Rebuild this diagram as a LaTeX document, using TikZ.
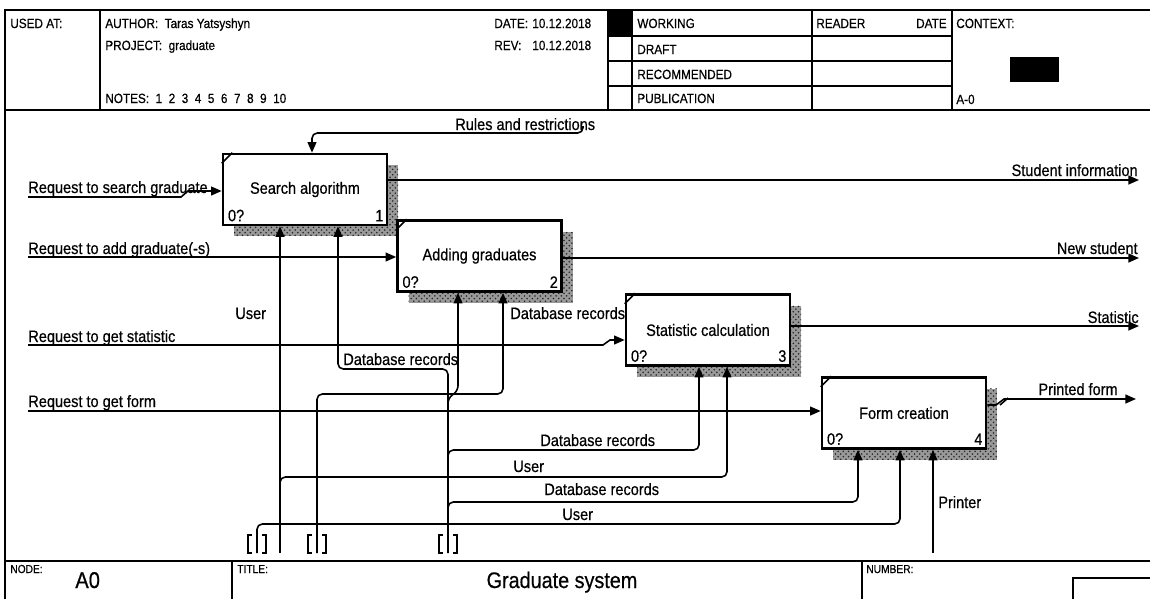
\documentclass[tikz,border=0pt]{standalone}
\usepackage{fontspec}
\setmainfont{Liberation Sans}[FakeStretch=0.88,FakeBold=0.5]
\usetikzlibrary{calc}
\usetikzlibrary{positioning}
\usetikzlibrary{arrows.meta}
\usetikzlibrary{patterns}
\usetikzlibrary{shadows}
\newcommand\lblfont{\fontsize{9.4}{11}\selectfont}
\newcommand\hdrfont{\fontsize{7.6}{9}\selectfont}

\begin{document}
\begin{tikzpicture}[x=0.02cm,y=-0.02cm,
	func/.style={draw,line width=1.5pt,fill=white,minimum width=3.28cm,minimum height=1.42cm,inner sep=0pt,font=\lblfont,
		general shadow={fill=black!40,shadow xshift=6.3pt,shadow yshift=-6.3pt},
		general shadow={pattern=crosshatch dots,pattern color=black!85,shadow xshift=6.3pt,shadow yshift=-6.3pt}},
	arr/.style={-{Triangle[length=6pt,width=5pt]},line width=0.9pt,rounded corners=3pt},
	frame/.style={line width=1pt},
	lbl/.style={anchor=base west,inner sep=0pt,font=\lblfont},
	rlbl/.style={anchor=base east,inner sep=0pt,font=\lblfont},
	hdr/.style={anchor=base west,inner sep=0pt,font=\hdrfont},
	tag/.style={inner sep=0pt,font=\lblfont}]
	\useasboundingbox (0,0) rectangle (1150,599);
	\fill[white] (0,0) rectangle (1150,599);
	\clip (0,0) rectangle (1150,599);

	\draw[frame] (5,599) -- (5,10) -- (1150,10);
	\draw[frame] (5,110) -- (1150,110);
	\draw[frame] (5,561) -- (1150,561);
	\foreach \x in {100,608,632,812,952} \draw[frame] (\x,10) -- (\x,110);
	\foreach \y in {36,61,86} \draw[frame] (608,\y) -- (952,\y);
	\fill (608,10) rectangle (632,36);
	\fill (1010,57) rectangle (1059,82);
	\draw[frame] (232,561) -- (232,599) (862,561) -- (862,599);
	\draw[frame] (1073,599) -- (1073,578) -- (1150,578);

	\node[hdr] (usedat) at (10,28) {USED AT:};
	\node[hdr] (author) at (105,28) {AUTHOR:~~Taras Yatsyshyn};
	\node[hdr] (project) at (105,50) {PROJECT:~~graduate};
	\node[hdr] (notes) at (105,103) {NOTES:~~1~~2~~3~~4~~5~~6~~7~~8~~9~~10};
	\node[hdr] (date) at (494,28) {DATE:};
	\node[hdr] (dateval) at (532,28) {10.12.2018};
	\node[hdr] (rev) at (494,50) {REV:};
	\node[hdr] (revval) at (532,50) {10.12.2018};
	\node[hdr] (working) at (637,28) {WORKING};
	\node[hdr] (draft) at (637,54) {DRAFT};
	\node[hdr] (recom) at (637,79) {RECOMMENDED};
	\node[hdr] (publ) at (637,103) {PUBLICATION};
	\node[hdr] (reader) at (816,28) {READER};
	\node[hdr,anchor=base east] (rdate) at (947,28) {DATE};
	\node[hdr] (context) at (956,28) {CONTEXT:};
	\node[hdr] (ctxnode) at (956,104) {A-0};

	\node[func] (b1) at (305,189.5) {Search algorithm};
	\node[func] (b2) at (479.5,256) {Adding graduates};
	\node[func] (b3) at (708,330) {Statistic calculation};
	\node[func] (b4) at (904,413) {Form creation};
	\foreach \b/\n in {b1/1,b2/2,b3/3,b4/4} {
		\node[tag,above right=2.6pt and 3.4pt of \b.south west] (\b z) {0?};
		\node[tag,above left=2.6pt and 2.6pt of \b.south east] (\b n) {\n};
		\draw[line width=0.9pt] ([yshift=-6pt]\b.north west) -- ([xshift=6pt]\b.north west);
	}

	\coordinate (ctl) at (583,126);
	\coordinate (in1) at (28,197);
	\coordinate (in2) at (28,257);
	\coordinate (in3) at (28,345);
	\coordinate (in4) at (28,411);
	\coordinate (out1) at (1139,180);
	\coordinate (out2) at (1139,258);
	\coordinate (out3) at (1139,326);
	\coordinate (out4) at (1136,399);
	\coordinate (usrA) at (280,553);
	\coordinate (usrB) at (317,553);
	\coordinate (usrC) at (257,553);
	\coordinate (dbA) at (448,553);
	\coordinate (prn) at (933,553);

	\draw[arr] (ctl) -- (583,133) -- (312,133) -- (312,0 |- b1.north);
	\draw[arr,sharp corners] (in1) -- (181,197) -- (188,191) -- (b1.west |- 0,191);
	\draw[arr] (in2) -- (b2.west |- in2);
	\draw[arr,sharp corners] (in3) -- (603,345) -- (610,340) -- (b3.west |- 0,340);
	\draw[arr] (in4) -- (b4.west |- in4);
	\draw[arr] (b1.east |- out1) -- (out1);
	\draw[arr] (b2.east |- out2) -- (out2);
	\draw[arr] (b3.east |- out3) -- (out3);
	\draw[arr,sharp corners] (b4.east |- 0,405) -- (996,405) -- (1004,399) -- (out4);
	\draw[line width=0.9pt] (1000,405) -- (1008,398);

	\draw[arr] (usrA) -- (usrA |- b1.south);
	\draw[arr] (280,483) -- (280,477) -- (727,477) -- (727,0 |- b3.south);
	\draw[arr] (usrB) -- (317,394) -- (503,394) -- (503,0 |- b2.south);
	\draw[arr] (usrC) -- (257,524) -- (900,524) -- (900,0 |- b4.south);
	\draw[arr] (dbA) -- (448,369) -- (338,369) -- (338,0 |- b1.south);
	\draw[arr] (448,404) -- (448,398) -- (458,391) -- (458,0 |- b2.south);
	\draw[arr] (448,456) -- (448,450) -- (699,450) -- (699,0 |- b3.south);
	\draw[arr] (448,508) -- (448,502) -- (858,502) -- (858,0 |- b4.south);
	\draw[arr] (prn) -- (prn |- b4.south);
	\foreach \t in {257,317,448} {
		\draw[line width=0.8pt] (\t-5,535) -- (\t-9,535) -- (\t-9,553) -- (\t-5,553);
		\draw[line width=0.8pt] (\t+5,535) -- (\t+9,535) -- (\t+9,553) -- (\t+5,553);
	}

	\node[lbl] (rules) at (455,130) {Rules and restrictions};
	\node[lbl] (req1) at (28,193) {Request to search graduate};
	\node[lbl] (req2) at (28,254) {Request to add graduate(-s)};
	\node[lbl] (req3) at (28,342) {Request to get statistic};
	\node[lbl] (req4) at (28,407) {Request to get form};
	\node[rlbl] (res1) at (1138,176) {Student information};
	\node[rlbl] (res2) at (1138,254) {New student};
	\node[rlbl] (res3) at (1139,323) {Statistic};
	\node[rlbl] (res4) at (1118,395) {Printed form};
	\node[lbl] (user1) at (235,319) {User};
	\node[lbl] (db1) at (343,365) {Database records};
	\node[lbl] (db2) at (510,319) {Database records};
	\node[lbl] (db3) at (540,446) {Database records};
	\node[lbl] (user3) at (513,472) {User};
	\node[lbl] (db4) at (544,495) {Database records};
	\node[lbl] (user4) at (562,520) {User};
	\node[lbl] (printer) at (938,508) {Printer};

	\node[hdr,font=\fontsize{6.6}{8}\selectfont] (nodelbl) at (10,573) {NODE:};
	\node[hdr,font=\fontsize{13}{15}\selectfont] (nodeval) at (75,588) {A0};
	\node[hdr,font=\fontsize{6.6}{8}\selectfont] (titlelbl) at (237,573) {TITLE:};
	\node[anchor=base,inner sep=0pt,font=\fontsize{12.8}{15}\selectfont] (title) at (562,588) {Graduate system};
	\node[hdr,font=\fontsize{6.6}{8}\selectfont] (numlbl) at (866,573) {NUMBER:};
\end{tikzpicture}
\end{document}
